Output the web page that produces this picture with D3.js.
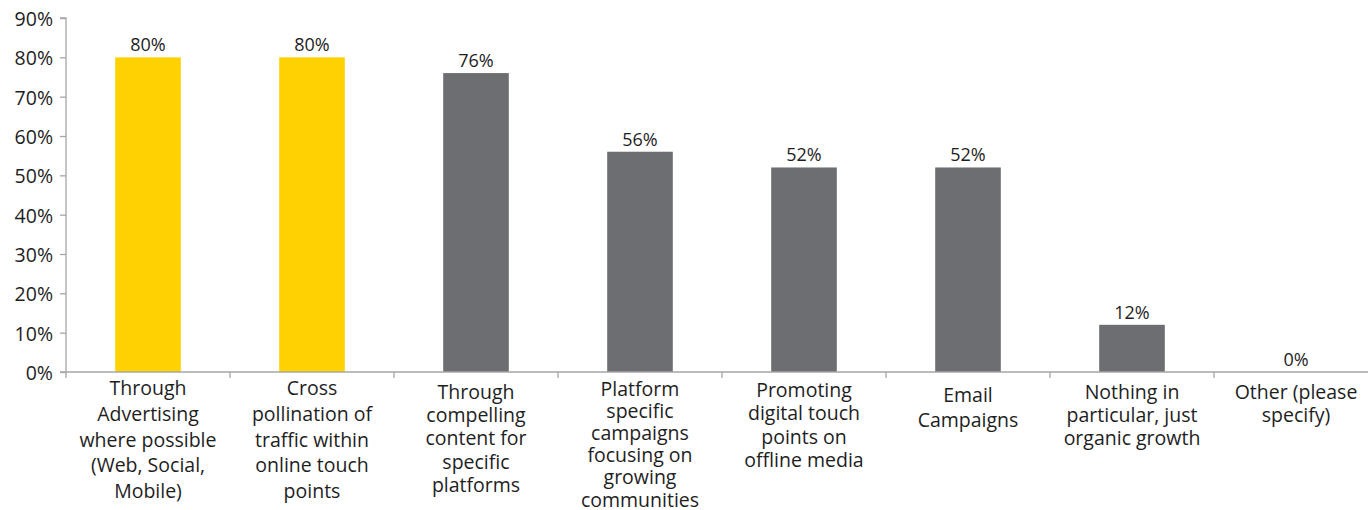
<!DOCTYPE html>
<html><head><meta charset="utf-8">
<script src="https://cdn.jsdelivr.net/npm/d3@7"></script>
<style>
html,body{margin:0;padding:0;background:#fff;}
svg{display:block;font-family:"Open Sans",sans-serif;}
</style></head>
<body>
<svg id="chart" width="1368" height="510"></svg>
<script>
const categories = [
  ["Through","Advertising","where possible","(Web, Social,","Mobile)"],
  ["Cross","pollination of","traffic within","online touch","points"],
  ["Through","compelling","content for","specific","platforms"],
  ["Platform","specific","campaigns","focusing on","growing","communities"],
  ["Promoting","digital touch","points on","offline media"],
  ["Email","Campaigns"],
  ["Nothing in","particular, just","organic growth"],
  ["Other (please","specify)"]
];
const values = [80, 80, 76, 56, 52, 52, 12, 0];
const highlighted = [true, true, false, false, false, false, false, false];
const yTicks = [0,10,20,30,40,50,60,70,80,90];

(function(){
// layout (label placement per column, as in the reference rendering)
const labelStart = [23, 23, 27, 24, 25, 30, 27, 27];
const labelGap = [25.8, 25.8, 23.2, 22.1, 23.3, 25, 23, 22.7];

const svg = d3.select("#chart");
const mLeft = 66, mRight = 1378, mTop = 18, mBottom = 372;
const textColor = "#1e1e1e";
const axisColor = "#a6a6a6";

const x = d3.scaleBand().domain(d3.range(categories.length)).range([mLeft, mRight]).paddingInner(0.6).paddingOuter(0.3);
const y = d3.scaleLinear().domain([0, 90]).range([mBottom, mTop]);

// Y axis
const yAxis = svg.append("g").attr("transform", `translate(${mLeft},0)`)
  .call(d3.axisLeft(y).tickValues(yTicks).tickSize(6).tickPadding(7).tickFormat(d => d + "%"));
yAxis.select(".domain").attr("stroke", axisColor).attr("stroke-width", 1.3).attr("d", `M-6,${y(90)}H0V${y(0)}H-6`);
yAxis.selectAll(".tick line").attr("stroke", axisColor).attr("stroke-width", 1.3);
yAxis.selectAll(".tick text").attr("fill", textColor).attr("dy", "0.38em").style("font-size", "19.5px").style("font-family", "'Open Sans',sans-serif");

// bars
svg.append("g").selectAll("rect").data(values).join("rect")
  .attr("x", (d,i) => x(i))
  .attr("y", d => y(d))
  .attr("width", x.bandwidth())
  .attr("height", d => y(0) - y(d))
  .attr("fill", (d,i) => highlighted[i] ? "#ffd200" : "#6d6e71");

// X axis
const step = x.step();
const xg = svg.append("g");
xg.append("line").attr("x1", mLeft).attr("x2", mRight).attr("y1", y(0)).attr("y2", y(0))
  .attr("stroke", axisColor).attr("stroke-width", 1.3);
xg.selectAll("line.tk").data(d3.range(categories.length + 1)).join("line").attr("class","tk")
  .attr("x1", i => mLeft + i * step).attr("x2", i => mLeft + i * step)
  .attr("y1", y(0)).attr("y2", y(0) + 6)
  .attr("stroke", axisColor).attr("stroke-width", 1.3);

// value labels
svg.append("g").selectAll("text").data(values).join("text")
  .attr("x", (d,i) => x(i) + x.bandwidth()/2)
  .attr("y", d => y(d) - 6)
  .attr("text-anchor", "middle")
  .attr("fill", textColor)
  .style("font-size", "18px")
  .text(d => d + "%");

// category labels
const lab = svg.append("g").selectAll("text").data(categories).join("text")
  .attr("text-anchor", "middle")
  .attr("fill", textColor)
  .style("font-size", "19.5px");
lab.each(function(lines, i) {
  const t = d3.select(this);
  lines.forEach((ln, j) => {
    t.append("tspan").attr("x", x(i) + x.bandwidth()/2).attr("y", y(0) + labelStart[i] + j * labelGap[i]).text(ln);
  });
});
})();
</script>
</body></html>
